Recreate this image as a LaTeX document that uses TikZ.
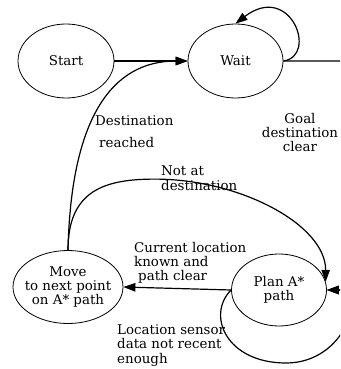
\documentclass[tikz,border=0pt]{standalone}
\usepackage{fontspec}
\setmainfont{DejaVu Serif}
\usetikzlibrary{arrows.meta,shapes.geometric}

\begin{document}
\begin{tikzpicture}[x=1pt, y=-1pt,
        font=\fontsize{13.4}{14.3}\selectfont,
        state/.style={draw, ellipse, line width=0.8pt, inner sep=0pt},
        statetext/.style={align=center, inner sep=0pt},
        trans/.style={-{Triangle[length=12pt, width=8.5pt]}, line width=1.2pt},
        txt/.style={inner sep=0pt, align=left, anchor=base west}]

            \useasboundingbox (0,0) rectangle (340,369);
            \clip (0,0) rectangle (340,369);

            \node[state, minimum width=96pt, minimum height=74pt, label={[statetext]center:Start}] (start) at (66,61) {};
            \node[state, minimum width=95pt, minimum height=74pt, label={[statetext]center:Wait}] (wait) at (235.5,61) {};
            \node[state, minimum width=110pt, minimum height=73pt, label={[statetext]center:Move\\to next point\\on A* path}] (move) at (68,287) {};
            \node[state, minimum width=95pt, minimum height=72pt, label={[statetext]center:Plan A*\\path}] (plan) at (279,290) {};

            \draw[trans] (start) -- (wait);
            \draw[trans] (wait.east) .. controls +(35,-5) and +(55,-42) .. (wait.north);
            \draw[trans] (wait.east) -- ++(80,0) .. controls +(60,0) and +(60,0) .. (plan.east);
            \draw[trans] (move.north) .. controls +(3,-130) and +(-77,0) .. (wait.west);
            \draw[trans] (move.north) .. controls +(0,-60) and +(-50,0) .. ++(87,-71) .. controls +(85,0) and +(0,-57) .. (plan.10);
            \draw[trans] (plan.west) -- (move.east);
            \draw[trans] (plan.west) .. controls +(-25,25) and +(-60,0) .. ++(55,73) .. controls +(60,0) and +(40,0) .. (plan.east);

            \node[txt] (lbldest) at (95,147) {Destination\\[7.7pt]\hspace*{4pt}reached};
            \node[txt, align=center, anchor=base] (lblgoal) at (300,151.7) {Goal\\destination\\clear};
            \node[txt] (lblnotat) at (161,190) {Not at\\destination};
            \node[txt] (lblcurrent) at (134,280.7) {Current location\\known and\\\hspace*{4pt}path clear};
            \node[txt] (lblsensor) at (117,363) {Location sensor\\data not recent\\enough};

        \end{tikzpicture}
\end{document}
